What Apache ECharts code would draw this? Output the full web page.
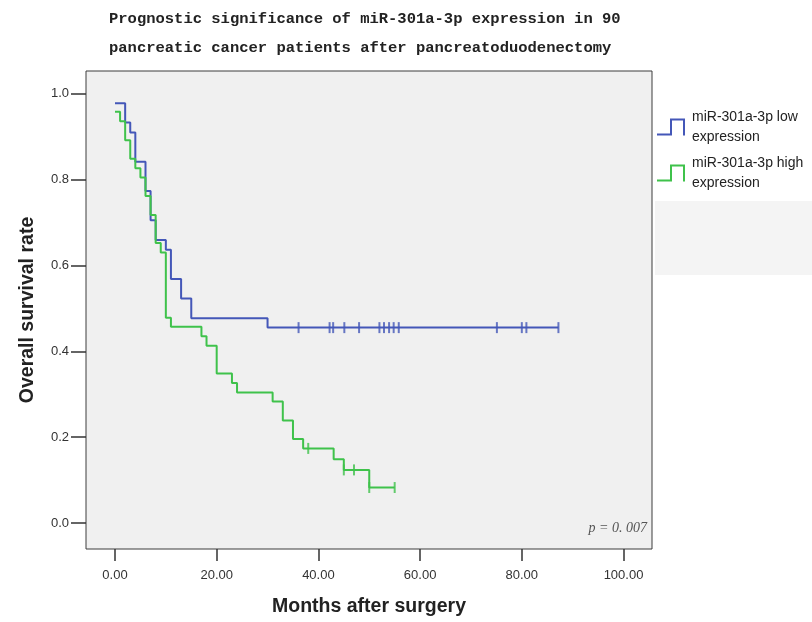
<!DOCTYPE html>
<html>
<head>
<meta charset="utf-8">
<script src="https://cdn.jsdelivr.net/npm/echarts@6/dist/echarts.min.js"></script>
<style>
html,body{margin:0;padding:0;background:#fff;}
#chart{width:812px;height:622px;}
</style>
</head>
<body>
<div id="chart"></div>
<script>
// ---- data ----
const seriesNames = ['miR-301a-3p low expression', 'miR-301a-3p high expression'];

const lowTimes = [0, 2, 3, 4, 6, 7, 8, 10, 11, 13, 15, 30];
const lowSurv = [0.977, 0.932, 0.909, 0.841, 0.773, 0.705, 0.659, 0.636, 0.568, 0.523, 0.477, 0.455];
const lowCensored = [36.1, 42.2, 42.9, 45.1, 48.0, 52.0, 52.9, 53.9, 54.8, 55.8, 75.1, 80.0, 80.9, 87.2];

const highTimes = [0, 1, 2, 3, 4, 5, 6, 7, 8, 9, 10, 11, 17, 18, 20, 23, 24, 31, 33, 35, 37, 43, 45, 50];
const highSurv = [0.957, 0.935, 0.891, 0.848, 0.826, 0.804, 0.761, 0.717, 0.652, 0.630, 0.478, 0.457,
                  0.435, 0.413, 0.348, 0.326, 0.304, 0.283, 0.239, 0.196, 0.174, 0.149, 0.124, 0.083];
const highCensored = [38.0, 45.0, 47.0, 50.0, 55.0];

const xTicks = [0, 20, 40, 60, 80, 100];
const yTicks = [0, 0.2, 0.4, 0.6, 0.8, 1.0];

const titleLines = ['Prognostic significance of miR-301a-3p expression in 90',
                    'pancreatic cancer patients after pancreatoduodenectomy'];
const pValueText = 'p = 0. 007';

// ---- helpers ----
function survAt(times, surv, t) {
  let v = surv[0];
  for (let i = 0; i < times.length; i++) { if (times[i] <= t) v = surv[i]; }
  return v;
}
function stepData(times, surv, censored) {
  const d = times.map((t, i) => [t, surv[i]]);
  const lastC = Math.max.apply(null, censored);
  if (lastC > times[times.length - 1]) d.push([lastC, surv[surv.length - 1]]);
  return d;
}
function censorData(times, surv, censored) {
  return censored.map(t => [t, survAt(times, surv, t)]);
}

const blue = '#4457b8';
const green = '#3fc24b';
const legendIcon = 'path://M0,15 L13,15 L13,0 L28,0 L28,17 L26,17 L26,2 L15,2 L15,17 L0,17 Z';

const chart = echarts.init(document.getElementById('chart'), null, {renderer: 'canvas'});
chart.setOption({
  animation: false,
  backgroundColor: '#ffffff',
  title: {
    text: titleLines.join('\n'),
    left: 104, top: 0,
    textStyle: {fontFamily: 'Liberation Mono', fontSize: 15.5, fontWeight: 'bold', color: '#222', lineHeight: 29}
  },
  grid: {
    left: 86, top: 71, right: 160, bottom: 71,
    show: true, backgroundColor: '#f0f0f0', borderColor: '#3c3c3c', borderWidth: 1
  },
  legend: {
    orient: 'vertical', left: 652, top: 102,
    data: seriesNames.map(n => ({name: n, icon: legendIcon})),
    itemWidth: 28, itemHeight: 17, itemGap: 6,
    formatter: n => n.replace(' expression', '\nexpression'),
    textStyle: {fontFamily: 'Liberation Sans', fontSize: 14, color: '#222', lineHeight: 20, padding: [0, 0, 0, 2]},
    itemStyle: {borderWidth: 0},
    selectedMode: false
  },
  xAxis: {
    type: 'value', min: -5.7, max: 105.6,
    name: 'Months after surgery', nameLocation: 'middle', nameGap: 48,
    nameTextStyle: {fontFamily: 'Liberation Sans', fontSize: 19.5, fontWeight: 'bold', color: '#222'},
    axisLine: {show: false, onZero: false},
    axisTick: {show: true, length: 12, customValues: xTicks, lineStyle: {color: '#333', width: 1.5}},
    axisLabel: {customValues: xTicks, margin: 20, formatter: v => v.toFixed(2),
                fontFamily: 'Liberation Sans', fontSize: 13, color: '#333'},
    splitLine: {show: false}
  },
  yAxis: {
    type: 'value', min: -0.06, max: 1.052,
    name: 'Overall survival rate', nameLocation: 'middle', nameGap: 48, nameRotate: 90,
    nameTextStyle: {fontFamily: 'Liberation Sans', fontSize: 19.5, fontWeight: 'bold', color: '#222'},
    axisLine: {show: false, onZero: false},
    axisTick: {show: true, length: 15, customValues: yTicks, lineStyle: {color: '#333', width: 1.5}},
    axisLabel: {customValues: yTicks, margin: 17, formatter: v => v.toFixed(1),
                fontFamily: 'Liberation Sans', fontSize: 13, color: '#333'},
    splitLine: {show: false}
  },
  graphic: [
    {type: 'rect', left: 655, top: 201, shape: {width: 157, height: 74}, style: {fill: '#f4f4f4'}, silent: true, z: -10},
    {type: 'text', right: 812 - 647, top: 521,
     style: {text: pValueText, font: 'italic 14px "Liberation Serif"', fill: '#555'}}
  ],
  series: [
    {name: seriesNames[0], type: 'line', step: 'end', symbol: 'none',
     data: stepData(lowTimes, lowSurv, lowCensored),
     lineStyle: {color: blue, width: 2}, itemStyle: {color: blue}, z: 3},
    {name: seriesNames[1], type: 'line', step: 'end', symbol: 'none',
     data: stepData(highTimes, highSurv, highCensored),
     lineStyle: {color: green, width: 2}, itemStyle: {color: green}, z: 3},
    {name: 'low censored', type: 'scatter', symbol: 'rect', symbolSize: [2, 11],
     data: censorData(lowTimes, lowSurv, lowCensored), itemStyle: {color: blue}, z: 4},
    {name: 'high censored', type: 'scatter', symbol: 'rect', symbolSize: [2, 11],
     data: censorData(highTimes, highSurv, highCensored), itemStyle: {color: green}, z: 4}
  ]
});
</script>
</body>
</html>
